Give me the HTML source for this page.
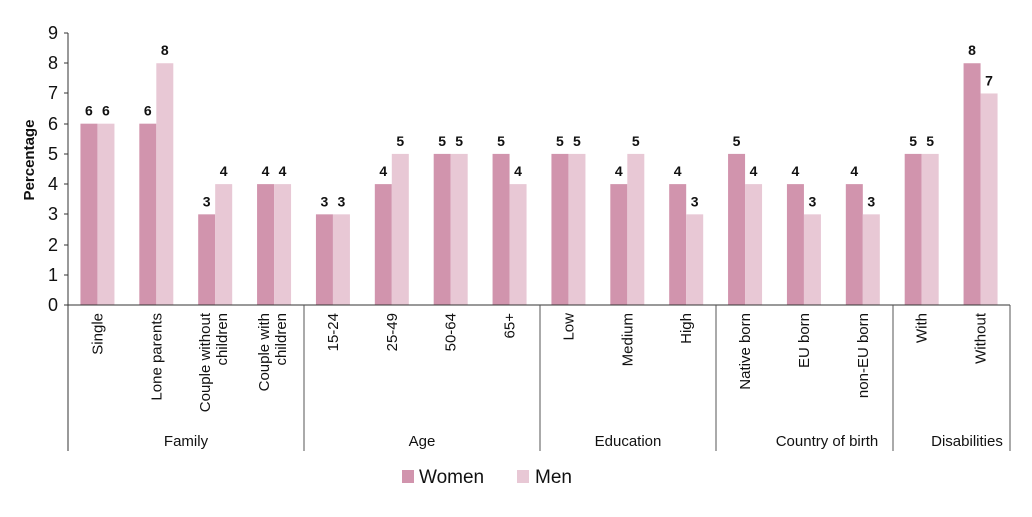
<!DOCTYPE html>
<html><head><meta charset="utf-8"><style>
body{margin:0;background:#fff}
text{font-family:"Liberation Sans",sans-serif;fill:#111}
</style></head><body>
<svg width="1032" height="512" xmlns="http://www.w3.org/2000/svg">
<g id="bars"></g>
<line x1="68" y1="33" x2="68" y2="451" stroke="#333" stroke-width="1"/>
<line x1="64" y1="305" x2="1010" y2="305" stroke="#333" stroke-width="1"/>
<g font-size="18" text-anchor="end">
<text x="58" y="311">0</text><text x="58" y="281">1</text><text x="58" y="251">2</text><text x="58" y="220">3</text><text x="58" y="190">4</text><text x="58" y="160">5</text><text x="58" y="130">6</text><text x="58" y="99">7</text><text x="58" y="69">8</text><text x="58" y="39">9</text>
</g>
<g stroke="#333"><line x1="64" y1="305" x2="68" y2="305"/><line x1="64" y1="275" x2="68" y2="275"/><line x1="64" y1="245" x2="68" y2="245"/><line x1="64" y1="214" x2="68" y2="214"/><line x1="64" y1="184" x2="68" y2="184"/><line x1="64" y1="154" x2="68" y2="154"/><line x1="64" y1="124" x2="68" y2="124"/><line x1="64" y1="93" x2="68" y2="93"/><line x1="64" y1="63" x2="68" y2="63"/><line x1="64" y1="33" x2="68" y2="33"/></g>
<text transform="translate(34,160) rotate(-90)" font-size="15" font-weight="bold" text-anchor="middle">Percentage</text>
<g stroke="#555"><line x1="304" y1="305" x2="304" y2="451"/><line x1="540" y1="305" x2="540" y2="451"/><line x1="716" y1="305" x2="716" y2="451"/><line x1="893" y1="305" x2="893" y2="451"/><line x1="1010" y1="305" x2="1010" y2="451"/></g>
<g font-size="15" text-anchor="middle">
<text x="186" y="446">Family</text><text x="422" y="446">Age</text><text x="628" y="446">Education</text><text x="827" y="446">Country of birth</text><text x="967" y="446">Disabilities</text>
</g>
<g id="labels" font-size="15" text-anchor="end"></g>
<g id="vals" font-size="14" font-weight="bold" text-anchor="middle"></g>
<rect x="402" y="470" width="12" height="13" fill="#d194ad"/>
<text x="419" y="483" font-size="19">Women</text>
<rect x="517" y="470" width="12" height="13" fill="#e8c8d5"/>
<text x="535" y="483" font-size="19">Men</text>
</svg>
<script>
var d=[["Single",6,6],["Lone parents",6,8],["Couple without|children",3,4],["Couple with|children",4,4],["15-24",3,3],["25-49",4,5],["50-64",5,5],["65+",5,4],["Low",5,5],["Medium",4,5],["High",4,3],["Native born",5,4],["EU born",4,3],["non-EU born",4,3],["With",5,5],["Without",8,7]];
var ns="http://www.w3.org/2000/svg",B=document.getElementById("bars"),L=document.getElementById("labels"),V=document.getElementById("vals");
function el(t,a,p,tx){var e=document.createElementNS(ns,t);for(var k in a)e.setAttribute(k,a[k]);if(tx)e.textContent=tx;p.appendChild(e);return e;}
var u=30.22;
d.forEach(function(r,i){var c=68+58.875*(i+.5);
[[r[1],c-17,"#d194ad"],[r[2],c,"#e8c8d5"]].forEach(function(b){var h=b[0]*u;el("rect",{x:b[1],y:305-h,width:17,height:h,fill:b[2]},B);el("text",{x:b[1]+8.5,y:305-h-8},V,String(b[0]));});
var parts=r[0].split("|");
if(parts.length==1){el("text",{transform:"translate("+(c+5)+",313) rotate(-90)"},L,parts[0]);}
else{el("text",{transform:"translate("+(c-5)+",313) rotate(-90)"},L,parts[0]);el("text",{transform:"translate("+(c+12)+",313) rotate(-90)"},L,parts[1]);}
});
</script>
</body></html>
